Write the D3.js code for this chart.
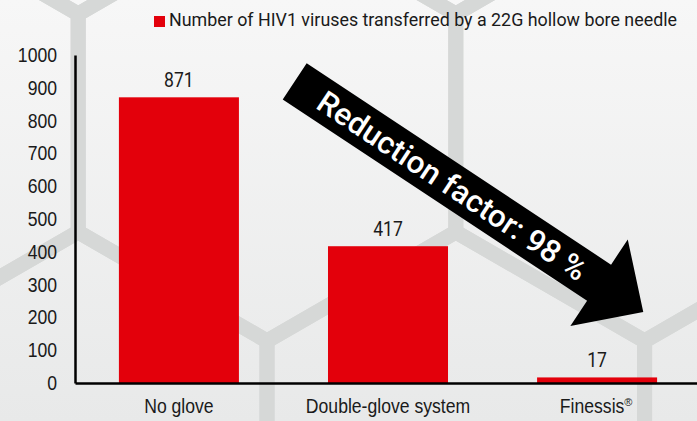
<!DOCTYPE html>
<html>
<head>
<meta charset="utf-8">
<script src="https://cdn.jsdelivr.net/npm/d3@7"></script>
<style>
  body { margin: 0; }
  svg { display: block; font-family: Roboto, "Noto Sans", sans-serif; }
</style>
</head>
<body>
<svg id="drawing_region"></svg>
<script>
// data
const categories = ["No glove", "Double-glove system", "Finessis"];
const values = [871, 417, 17];
const yTicks = [0, 100, 200, 300, 400, 500, 600, 700, 800, 900, 1000];
const legendLabel = "Number of HIV1 viruses transferred by a 22G hollow bore needle";
const arrowLabel = "Reduction factor: 98 %";

const config = {
    width: 697,
    height: 421,
    margin: {top: 55, right: -4, bottom: 38, left: 75}
};

// squeeze a text horizontally, the original uses a condensed face
function condense(sel, k) {
    sel.each(function() {
        const w = this.getComputedTextLength();
        d3.select(this)
            .attr('textLength', w * k)
            .attr('lengthAdjust', 'spacingAndGlyphs');
    });
}

const svg = d3.select('#drawing_region')
    .attr('width', config.width)
    .attr('height', config.height);

// background gradient
const defs = svg.append('defs');
const grad = defs.append('linearGradient')
    .attr('id', 'bg')
    .attr('x1', 0).attr('y1', 0).attr('x2', 0).attr('y2', 1);
grad.append('stop').attr('offset', '0%').attr('stop-color', '#f7f7f7');
grad.append('stop').attr('offset', '100%').attr('stop-color', '#e8e9e9');

svg.append('rect')
    .attr('width', config.width)
    .attr('height', config.height)
    .attr('fill', 'url(#bg)');

// hexagon pattern behind the chart
const side = 218;
const hw = side * Math.sqrt(3) / 2;
const hexCenters = [];
for (let row = -1; row <= 1; row++) {
    for (let i = -1; i <= 2; i++) {
        hexCenters.push([267 + i * 2 * hw + (Math.abs(row) % 2) * hw, 123 + row * 1.5 * side]);
    }
}
const hexLine = d3.line().curve(d3.curveLinearClosed);
svg.append('g')
    .selectAll('path')
    .data(hexCenters)
    .join('path')
    .attr('d', c => hexLine(d3.range(6).map(k => {
        const a = Math.PI / 3 * k - Math.PI / 2;
        return [c[0] + side * Math.cos(a), c[1] + side * Math.sin(a)];
    })))
    .attr('fill', 'none')
    .attr('stroke', '#d6d8d7')
    .attr('stroke-width', 15)
    .attr('stroke-linejoin', 'round');

const inner_width = config.width - config.margin.left - config.margin.right;
const inner_height = config.height - config.margin.top - config.margin.bottom;

const chart = svg.append('g')
    .attr('transform', `translate(${config.margin.left}, ${config.margin.top})`);

const xscale = d3.scaleBand()
    .domain(categories)
    .range([0, inner_width])
    .paddingInner(0.426)
    .paddingOuter(0.21);

const yscale = d3.scaleLinear()
    .domain([0, 1000])
    .range([inner_height, 0]);

// bars
chart.selectAll('rect.bar')
    .data(values)
    .join('rect')
    .attr('class', 'bar')
    .attr('x', (d, i) => xscale(categories[i]))
    .attr('y', d => yscale(d))
    .attr('width', xscale.bandwidth())
    .attr('height', d => inner_height - yscale(d))
    .attr('fill', '#e3000b');

// value labels
chart.selectAll('text.value')
    .data(values)
    .join('text')
    .attr('class', 'value')
    .attr('x', (d, i) => xscale(categories[i]) + xscale.bandwidth() / 2)
    .attr('y', d => yscale(d) - 10)
    .attr('text-anchor', 'middle')
    .attr('font-size', 20)
    .attr('fill', '#1a1a1a')
    .text(d => d)
    .call(condense, 0.88);

// axes
const yaxis = chart.append('g')
    .call(d3.axisLeft(yscale).tickValues(yTicks).tickFormat(d3.format('d')).tickSize(0).tickPadding(18));
yaxis.select('.domain').attr('stroke', '#000').attr('stroke-width', 2.5);
yaxis.selectAll('text')
    .attr('font-size', 20).attr('fill', '#1a1a1a').attr('font-family', null)
    .call(condense, 0.88);

const xaxis = chart.append('g')
    .attr('transform', `translate(0, ${inner_height})`)
    .call(d3.axisBottom(xscale).tickSize(0).tickSizeOuter(0).tickPadding(16));
xaxis.select('.domain').attr('stroke', '#000').attr('stroke-width', 2.5);
xaxis.selectAll('text')
    .attr('font-size', 20).attr('fill', '#1a1a1a').attr('font-family', null)
    .call(condense, 0.88);

// registered mark after "Finessis"
xaxis.selectAll('.tick')
    .filter(d => d === 'Finessis')
    .each(function() {
        const t = d3.select(this).select('text');
        const w = +t.attr('textLength');
        t.attr('x', -5);
        d3.select(this).append('text')
            .attr('x', w / 2 - 5)
            .attr('y', 23)
            .attr('font-size', 11)
            .attr('fill', '#1a1a1a')
            .attr('text-anchor', 'start')
            .text('®');
    });

// legend
const legend = svg.append('g').attr('transform', 'translate(154, 16)');
legend.append('rect')
    .attr('width', 11).attr('height', 11)
    .attr('fill', '#e3000b');
legend.append('text')
    .attr('x', 15).attr('y', 10)
    .attr('font-size', 19)
    .attr('fill', '#1a1a1a')
    .attr('textLength', 508)
    .attr('lengthAdjust', 'spacingAndGlyphs')
    .text(legendLabel);

// reduction arrow
const arrow = {x: 294.7, y: 81.3, angle: 33.5, body: 21.7, headAt: 365, head: 52, tip: 418};
const ag = svg.append('g')
    .attr('transform', `translate(${arrow.x}, ${arrow.y}) rotate(${arrow.angle})`);
ag.append('path')
    .attr('d', d3.line()([
        [0, -arrow.body], [arrow.headAt, -arrow.body], [arrow.headAt, -arrow.head],
        [arrow.tip, 0], [arrow.headAt, arrow.head], [arrow.headAt, arrow.body], [0, arrow.body]
    ]) + 'Z')
    .attr('fill', '#000');
ag.append('text')
    .attr('x', 189).attr('y', 11)
    .attr('text-anchor', 'middle')
    .attr('font-size', 31)
    .attr('font-weight', 500)
    .attr('fill', '#fff')
    .attr('textLength', 316)
    .attr('lengthAdjust', 'spacingAndGlyphs')
    .text(arrowLabel);
</script>
</body>
</html>
